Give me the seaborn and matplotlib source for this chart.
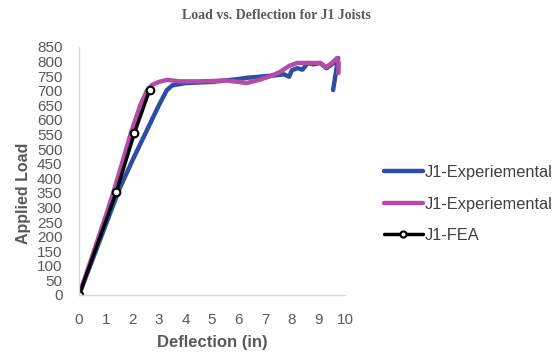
import pandas as pd
import numpy as np
import seaborn as sns
import matplotlib.pyplot as plt

sns.set_style("white")
plt.rcParams["font.family"] = ["Liberation Sans", "DejaVu Sans"]

# J1 experimental run 1 (blue)
exp1_defl = [0.0, 0.5, 1.0, 1.5, 2.0, 2.5, 3.0, 3.3, 3.5, 4.0, 4.5, 5.0, 5.5, 6.0,
             6.3, 6.8, 7.3, 7.7, 7.9, 8.0, 8.2, 8.4, 8.6, 8.8, 9.06, 9.3, 9.5, 9.7, 9.74, 9.65, 9.55]
exp1_load = [0, 120, 240, 360, 460, 555, 650, 702, 718, 726, 728, 730, 735, 740,
             744, 748, 752, 756, 748, 770, 777, 772, 795, 790, 795, 777, 790, 805, 812, 760, 702]

# J1 experimental run 2 (pink)
exp2_defl = [0.0, 0.5, 1.0, 1.32, 1.95, 2.3, 2.55, 2.75, 3.0, 3.3, 3.8, 4.5, 5.0, 5.5, 6.0, 6.3,
             6.8, 7.2, 7.55, 7.9, 8.2, 8.6, 9.06, 9.3, 9.5, 9.7, 9.76, 9.75]
exp2_load = [0, 135, 270, 360, 555, 650, 700, 720, 730, 737, 732, 732, 733, 735, 730, 726,
             738, 750, 764, 785, 795, 795, 795, 781, 795, 812, 795, 760]

# J1 FEA
fea_defl = [0.0, 1.4, 2.08, 2.65]
fea_load = [0, 353, 555, 702]

fig, ax = plt.subplots(figsize=(5.53, 3.58), dpi=100)
fig.subplots_adjust(left=0.143, right=0.624, bottom=0.176, top=0.869)

sns.lineplot(x=exp1_defl, y=exp1_load, sort=False, estimator=None, ax=ax,
             color="#2E4DA7", linewidth=3.2, label="J1-Experiemental")
sns.lineplot(x=exp2_defl, y=exp2_load, sort=False, estimator=None, ax=ax,
             color="#B54BA8", linewidth=3.2, label="J1-Experiemental")
sns.lineplot(x=fea_defl, y=fea_load, sort=False, estimator=None, ax=ax,
             color="black", linewidth=2.5, marker="o", markersize=5.5,
             markerfacecolor="white", markeredgecolor="black", markeredgewidth=1.5,
             label="J1-FEA")

ax.set_xlim(0, 10)
ax.set_ylim(0, 850)
ax.set_xticks(range(0, 11))
ax.set_yticks(range(0, 851, 50))

for side in ["top", "right"]:
    ax.spines[side].set_visible(False)
for side in ["left", "bottom"]:
    ax.spines[side].set_color("#D9D9D9")
    ax.spines[side].set_linewidth(1)

ax.tick_params(axis="x", direction="out", length=5, color="#D9D9D9",
               labelsize=11, labelcolor="#595959", pad=8)
ax.tick_params(axis="y", length=0, labelsize=11, labelcolor="#595959", pad=12)

ax.set_xlabel("Deflection (in)", fontsize=12, fontweight="bold", color="#595959", labelpad=6)
ax.set_ylabel("Applied Load", fontsize=11.5, fontweight="bold", color="#595959", labelpad=4)
ax.yaxis.set_label_coords(-0.18, 0.41)
fig.suptitle("Load vs. Deflection for J1 Joists", x=0.5, y=0.975,
             fontsize=10, fontweight="bold", color="#595959", family="Liberation Serif")

ax.get_legend().remove()
fig.legend(*ax.get_legend_handles_labels(), loc="center left",
           bbox_to_anchor=(0.667, 0.43), frameon=False,
           fontsize=11.8, handlelength=2.4, labelspacing=1.0, handletextpad=0.1,
           markerscale=0.8, labelcolor="#404040")

fig.savefig("out.png", dpi=100)
